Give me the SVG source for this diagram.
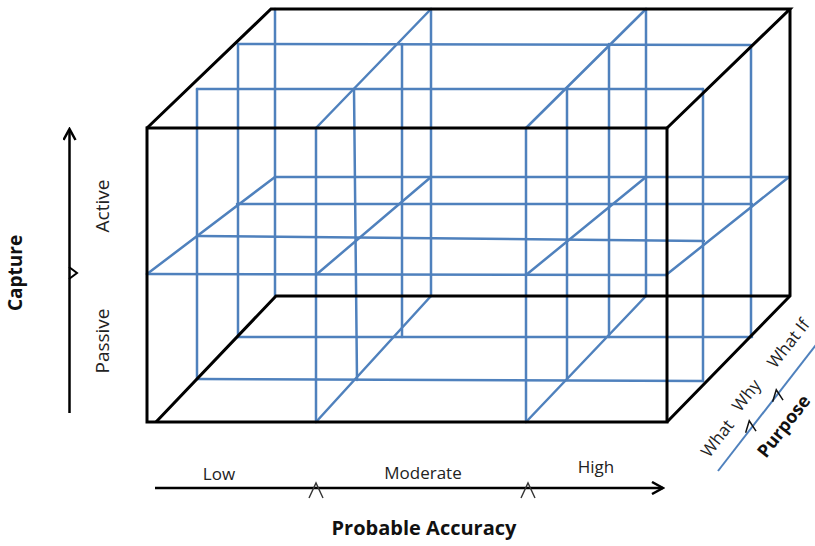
<svg xmlns="http://www.w3.org/2000/svg" xmlns:xlink="http://www.w3.org/1999/xlink" width="815" height="546" viewBox="0 0 815 546">
<style>
.b{fill:none;stroke:#4F81BD;stroke-width:2.5;stroke-linecap:round}
.k{fill:none;stroke:#000;stroke-width:3;stroke-linejoin:miter}
.ax{fill:none;stroke:#000;stroke-width:2.5}
.tk{fill:none;stroke:#333;stroke-width:1.4}
.rk{fill:none;stroke:#111;stroke-width:2}
.t{font-family:"Open Sans","DejaVu Sans",sans-serif;font-size:17px;fill:#222}
.tb{font-family:"Open Sans","DejaVu Sans",sans-serif;font-size:19px;font-weight:bold;fill:#111}
</style>
<defs>
<marker id="chev" viewBox="0 0 14 14" refX="12" refY="7" markerWidth="14" markerHeight="14" orient="auto" markerUnits="userSpaceOnUse">
<path d="M1,1 L12,7 L1,13" fill="none" stroke="#000" stroke-width="2.5"/>
</marker>
<path id="caret" d="M-7,8 L0,-7 L7,8"/>
</defs>
<rect width="815" height="546" fill="#fff"/>
<g id="cube">
<g id="grid">
<line class="b" x1="238" y1="44" x2="750" y2="45"/>
<line class="b" x1="197" y1="89" x2="703" y2="89"/>
<line class="b" x1="275" y1="177" x2="789" y2="177"/>
<line class="b" x1="237" y1="204" x2="752" y2="204"/>
<line class="b" x1="198" y1="236" x2="704" y2="241"/>
<line class="b" x1="147" y1="274" x2="666" y2="275"/>
<line class="b" x1="238" y1="337" x2="752" y2="337"/>
<line class="b" x1="197" y1="379" x2="703" y2="381"/>
<line class="b" x1="197" y1="89" x2="197" y2="379"/>
<line class="b" x1="238" y1="44" x2="238" y2="337"/>
<line class="b" x1="275" y1="9" x2="275" y2="296"/>
<line class="b" x1="316" y1="128" x2="316" y2="422"/>
<line class="b" x1="354" y1="89" x2="357" y2="380"/>
<line class="b" x1="402" y1="44" x2="402" y2="337"/>
<line class="b" x1="431" y1="9" x2="431" y2="296"/>
<line class="b" x1="526" y1="128" x2="526" y2="422"/>
<line class="b" x1="567" y1="89" x2="567" y2="380"/>
<line class="b" x1="609" y1="44" x2="609" y2="337"/>
<line class="b" x1="646" y1="9" x2="646" y2="296"/>
<line class="b" x1="703" y1="89" x2="703" y2="381"/>
<line class="b" x1="751" y1="45" x2="751" y2="337"/>
<line class="b" x1="316" y1="128" x2="431" y2="9"/>
<line class="b" x1="526" y1="128" x2="646" y2="9"/>
<line class="b" x1="147" y1="274" x2="275" y2="177"/>
<line class="b" x1="317" y1="274" x2="431" y2="177"/>
<line class="b" x1="526" y1="275" x2="646" y2="177"/>
<line class="b" x1="666" y1="275" x2="789" y2="177"/>
<line class="b" x1="316" y1="422" x2="431" y2="296"/>
<line class="b" x1="526" y1="422" x2="646" y2="296"/>
</g>
<g id="edges">
<polygon class="k" points="147,128 667,128 667,422 147,422"/>
<polyline class="k" points="147,128 271,9 790,9 667,128"/>
<polyline class="k" points="790,9 790,296 667,422"/>
<polyline class="k" points="156,422 276,296 790,296"/>
</g>
</g>
<g id="connectors">
<line class="ax" x1="69.5" y1="413" x2="69.5" y2="129" marker-end="url(#chev)"/>
<path d="M69,267 L77,273 L69,279" fill="none" stroke="#000" stroke-width="2"/>
<line class="ax" x1="155" y1="488" x2="663" y2="488" marker-end="url(#chev)"/>
<use href="#caret" class="tk" transform="translate(316,490)"/>
<use href="#caret" class="tk" transform="translate(528,490)"/>
<line x1="718" y1="471" x2="822" y2="337" stroke="#4F81BD" stroke-width="2"/>
<use href="#caret" class="rk" transform="translate(750,426) rotate(-8) scale(0.75)"/>
<use href="#caret" class="rk" transform="translate(777,395) rotate(-8) scale(0.75)"/>
</g>
<g id="capture-axis">
<text class="tb" transform="translate(22,273) rotate(-90)" text-anchor="middle">Capture</text>
<text class="t" style="font-size:19px" transform="translate(109,206) rotate(-90)" text-anchor="middle">Active</text>
<text class="t" style="font-size:19px" transform="translate(109,341) rotate(-90)" text-anchor="middle">Passive</text>
</g>
<g id="accuracy-axis">
<text class="t" x="219" y="480" text-anchor="middle">Low</text>
<text class="t" x="423" y="479" text-anchor="middle">Moderate</text>
<text class="t" x="596" y="473" text-anchor="middle">High</text>
<text class="tb" style="font-size:20px" x="424" y="535" text-anchor="middle">Probable Accuracy</text>
</g>
<g id="purpose-axis">
<text class="t" transform="translate(722,442) rotate(-52)" text-anchor="middle">What</text>
<text class="t" transform="translate(751,399) rotate(-52)" text-anchor="middle">Why</text>
<text class="t" transform="translate(793,347) rotate(-52)" text-anchor="middle">What If</text>
<text class="tb" style="font-size:18px" transform="translate(766,459) rotate(-52)">Purpose</text>
</g>
</svg>
